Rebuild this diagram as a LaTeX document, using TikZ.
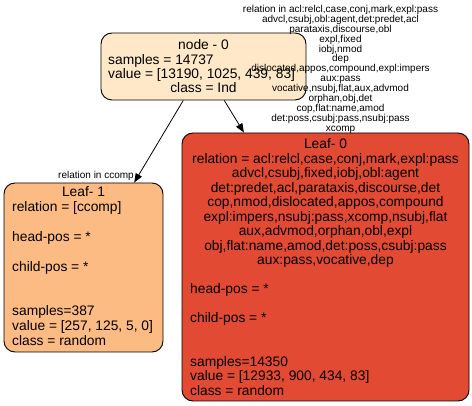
\documentclass[tikz,border=0pt]{standalone}
\usepackage{fontspec}
\setmainfont{Liberation Sans}
\usetikzlibrary{arrows.meta}
\definecolor{cRoot}{HTML}{FEE8C8}
\definecolor{cLeafA}{HTML}{FDBB84}
\definecolor{cLeafB}{HTML}{E34A33}
\begin{document}
\begin{tikzpicture}[x=1pt,y=-1pt,
  box/.style={draw=black, line width=0.9pt, rounded corners=11pt, inner sep=0pt, rectangle},
  tc/.style={font=\fontsize{13.8}{14}\selectfont, inner sep=0pt, anchor=base},
  tl/.style={font=\fontsize{13.8}{14}\selectfont, inner sep=0pt, anchor=base west},
  el/.style={font=\fontsize{10}{10}\selectfont, inner sep=0pt, anchor=base},
  edge/.style={draw=black, line width=0.8pt, -{Triangle[length=9pt,width=7pt]}}]
\useasboundingbox (0,0) rectangle (472,406);

% boxes
\node[box, fill=cRoot, minimum width=205pt, minimum height=67pt] (n0) at (203.5,66.5) {};
\node[box, fill=cLeafA, minimum width=159pt, minimum height=169pt] (l1) at (83.5,267.5) {};
\node[box, fill=cLeafB, minimum width=287pt, minimum height=268pt] (l0) at (325.5,267) {};

% root text
\node[tc] (n0a) at (203.5,50) {node - 0};
\node[tl] (n0b) at (108,64.2) {samples = 14737};
\node[tl] (n0c) at (108,78.4) {value = [13190, 1025, 439, 83]};
\node[tc] (n0d) at (203.5,92.6) {class = Ind};

% leaf 1 text
\node[tc] (l1a) at (83.5,197) {Leaf- 1};
\node[tl] (l1b) at (12,{197+14.85*1}) {relation = [ccomp]};
\node[tl] (l1c) at (12,{197+14.85*3}) {head-pos = *};
\node[tl] (l1d) at (12,{197+14.85*5}) {child-pos = *};
\node[tl] (l1e) at (12,{197+14.85*8}) {samples=387};
\node[tl] (l1f) at (12,{197+14.85*9}) {value = [257, 125, 5, 0]};
\node[tl] (l1g) at (12,{197+14.85*10}) {class = random};

% leaf 0 text
\node[tc] (l0a) at (325.5,149) {Leaf- 0};
\foreach \t [count=\i from 1] in {
  {relation = acl:relcl,case,conj,mark,expl:pass},
  {advcl,csubj,fixed,iobj,obl:agent},
  {det:predet,acl,parataxis,discourse,det},
  {cop,nmod,dislocated,appos,compound},
  {expl:impers,nsubj:pass,xcomp,nsubj,flat},
  {aux,advmod,orphan,obl,expl},
  {obj,flat:name,amod,det:poss,csubj:pass},
  {aux:pass,vocative,dep}}
  \node[tc] (l0r\i) at (325.5,{149+14.5*\i}) {\t};
\node[tl] (l0b) at (190,{149+14.5*10}) {head-pos = *};
\node[tl] (l0c) at (190,{149+14.5*12}) {child-pos = *};
\node[tl] (l0d) at (190,{149+14.5*15}) {samples=14350};
\node[tl] (l0e) at (190,{149+14.5*16}) {value = [12933, 900, 434, 83]};
\node[tl] (l0f) at (190,{149+14.5*17}) {class = random};

% edges
\draw[edge] (n0) -- (l1);
\draw[edge] (n0) -- (l0);

% edge labels
\node[el] (e1) at (96,178.5) {relation in ccomp};
\foreach \t [count=\i from 0] in {
  {relation in acl:relcl,case,conj,mark,expl:pass},
  {advcl,csubj,obl:agent,det:predet,acl},
  {parataxis,discourse,obl},
  {expl,fixed},
  {iobj,nmod},
  {dep},
  {dislocated,appos,compound,expl:impers},
  {aux:pass},
  {vocative,nsubj,flat,aux,advmod},
  {orphan,obj,det},
  {cop,flat:name,amod},
  {det:poss,csubj:pass,nsubj:pass},
  {xcomp}}
  \node[el] (e2r\i) at (340.5,{12.5+9.9*\i}) {\t};
\end{tikzpicture}
\end{document}
